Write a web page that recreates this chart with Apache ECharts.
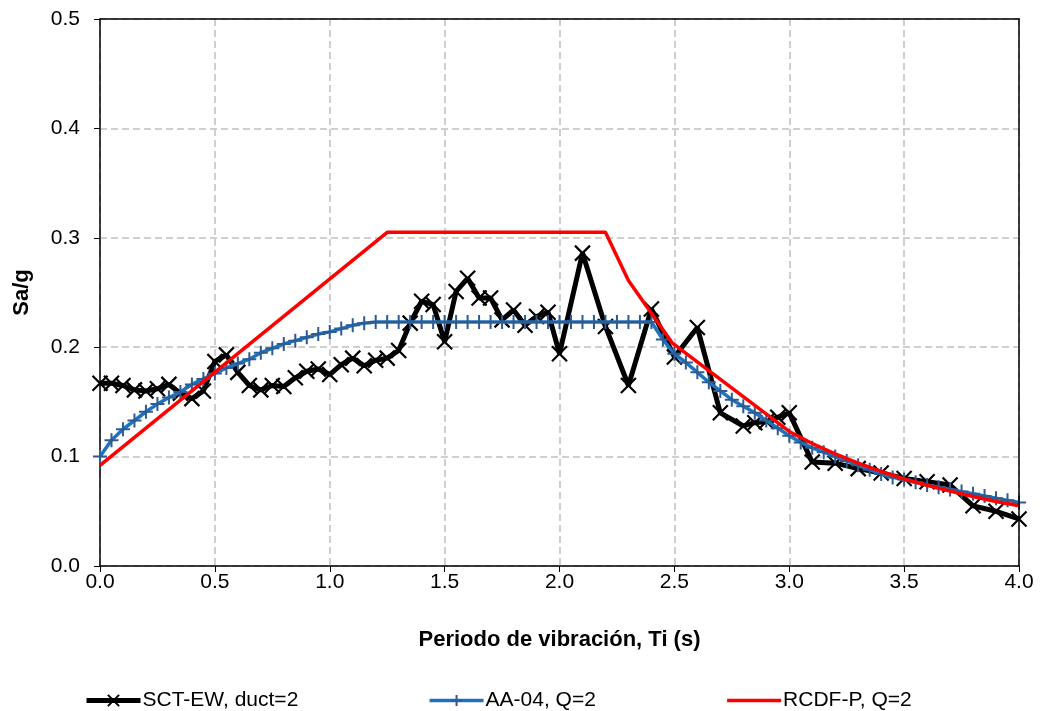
<!DOCTYPE html>
<html>
<head>
<meta charset="utf-8">
<script src="https://cdn.jsdelivr.net/npm/echarts@6/dist/echarts.min.js"></script>
<style>
html,body{margin:0;padding:0;background:#fff;}
#chart{width:1041px;height:711px;}
</style>
</head>
<body>
<div id="chart"></div>
<script>
// ---- Data ----
var xTicks = [0.0, 0.5, 1.0, 1.5, 2.0, 2.5, 3.0, 3.5, 4.0];
var yTicks = [0.0, 0.1, 0.2, 0.3, 0.4, 0.5];

var sctT = [0,0.05,0.1,0.15,0.2,0.25,0.3,0.35,0.4,0.45,0.5,0.55,0.6,0.65,0.7,0.75,0.8,0.85,0.9,0.95,
            1.0,1.05,1.1,1.15,1.2,1.25,1.3,1.35,1.4,1.45,1.5,1.55,1.6,1.65,1.7,1.75,1.8,1.85,1.9,1.95,
            2.0,2.1,2.2,2.3,2.4,2.5,2.6,2.7,2.8,2.85,2.9,2.95,3.0,3.1,3.2,3.3,3.4,3.5,3.6,3.7,3.8,3.9,4.0];
var sctSa = [0.167,0.167,0.165,0.161,0.160,0.162,0.166,0.158,0.153,0.160,0.187,0.193,0.177,0.165,0.161,0.165,0.164,0.172,0.178,0.180,
             0.175,0.184,0.190,0.183,0.188,0.190,0.197,0.222,0.242,0.239,0.205,0.251,0.263,0.245,0.245,0.225,0.234,0.220,0.228,0.232,
             0.194,0.286,0.219,0.165,0.235,0.191,0.218,0.140,0.128,0.131,0.132,0.136,0.140,0.095,0.094,0.089,0.085,0.080,0.077,0.074,0.055,0.050,0.043];

var aaT = [0,0.05,0.1,0.15,0.2,0.25,0.3,0.35,0.4,0.45,0.5,0.55,0.6,0.65,0.7,0.75,0.8,0.85,0.9,0.95,
           1.0,1.05,1.1,1.15,1.2,1.25,1.3,1.35,1.4,1.45,1.5,1.55,1.6,1.65,1.7,1.75,1.8,1.85,1.9,1.95,
           2.0,2.05,2.1,2.15,2.2,2.25,2.3,2.35,2.4,2.45,2.5,2.55,2.6,2.65,2.7,2.75,2.8,2.85,2.9,2.95,
           3.0,3.05,3.1,3.15,3.2,3.25,3.3,3.35,3.4,3.45,3.5,3.55,3.6,3.65,3.7,3.75,3.8,3.85,3.9,3.95,4.0];
var aaSa = [0.100,0.115,0.125,0.133,0.141,0.148,0.154,0.159,0.166,0.171,0.176,0.181,0.185,0.189,0.195,0.199,0.203,0.206,0.209,0.212,
            0.214,0.217,0.220,0.222,0.223,0.223,0.223,0.223,0.223,0.223,0.223,0.223,0.223,0.223,0.223,0.223,0.223,0.223,0.223,0.223,
            0.223,0.223,0.223,0.223,0.223,0.223,0.223,0.223,0.223,0.207,0.194,0.186,0.177,0.168,0.160,0.152,0.146,0.140,0.133,0.126,
            0.119,0.113,0.108,0.104,0.100,0.096,0.092,0.088,0.084,0.081,0.079,0.0765,0.074,0.072,0.070,0.068,0.066,0.064,0.062,0.060,0.058];

var rcdfT = [0,1.25,2.2,2.3,2.49,3.0,3.1,3.2,3.3,3.4,3.5,3.6,3.7,3.8,3.9,4.0];
var rcdfSa = [0.092,0.305,0.305,0.261,0.204,0.123,0.112,0.1025,0.094,0.0865,0.0795,0.0738,0.0684,0.0635,0.059,0.055];

var seriesNames = ['SCT-EW, duct=2', 'AA-04, Q=2', 'RCDF-P, Q=2'];

function pairs(t, v){ return t.map(function(x,i){ return [x, v[i]]; }); }

var crossPath = 'path://M0,0L10,10M10,0L0,10';
var plusPath = 'path://M5,0L5,10M0,5L10,5';
var blankPath = 'path://M0,0L1,1';

var chart = echarts.init(document.getElementById('chart'), null, {renderer:'canvas'});
var font = 'Liberation Sans, Arial, sans-serif';
function frameLine(){ return {show:true, onZero:false, lineStyle:{color:'#000', width:1.5}}; }
chart.setOption({
  animation:false,
  backgroundColor:'#fff',
  textStyle:{fontFamily:font},
  grid:{left:100, right:22, top:19, bottom:145, show:false},
  legend:{
    left:79, top:685, itemWidth:54, itemHeight:14, itemGap:129.5,
    textStyle:{fontSize:21, color:'#000', fontFamily:font, padding:[0,0,0,-3]},
    data:[
      {name:seriesNames[0], lineStyle:{width:5, color:'#000'}, itemStyle:{borderColor:'#000', borderWidth:2, color:'transparent'}},
      {name:seriesNames[1], lineStyle:{width:3.5, color:'#1f72bd'}, itemStyle:{borderColor:'#2d5b94', borderWidth:2, color:'transparent'}},
      {name:seriesNames[2], lineStyle:{width:3.5, color:'#ff0000'}, itemStyle:{borderWidth:0, color:'transparent'}}
    ]
  },
  xAxis:[{
    type:'value', min:0, max:4, interval:0.5,
    name:'Periodo de vibración, Ti (s)', nameLocation:'middle', nameGap:63,
    nameTextStyle:{fontSize:22, fontWeight:'bold', color:'#000'},
    axisLine:frameLine(),
    axisTick:{show:true, inside:false, length:6, lineStyle:{color:'#000'}},
    axisLabel:{fontSize:21, color:'#000', margin:6, formatter:function(v){return v.toFixed(1);}},
    splitLine:{show:true, lineStyle:{color:'#c0c0c0', width:1.5, type:[7,4]}},
    z:1
  },{
    type:'value', position:'top', min:0, max:4, interval:0.5,
    axisLine:frameLine(), axisTick:{show:false}, axisLabel:{show:false}, splitLine:{show:false}, z:5
  }],
  yAxis:[{
    type:'value', min:0, max:0.5, interval:0.1,
    name:'Sa/g', nameLocation:'middle', nameGap:67, nameRotate:90,
    nameTextStyle:{fontSize:22, fontWeight:'bold', color:'#000'},
    axisLine:frameLine(),
    axisTick:{show:true, inside:false, length:6, lineStyle:{color:'#000'}},
    axisLabel:{fontSize:21, color:'#000', margin:20, formatter:function(v){return v.toFixed(1);}},
    splitLine:{show:true, lineStyle:{color:'#c0c0c0', width:1.5, type:[7,4]}},
    z:1
  },{
    type:'value', position:'right', min:0, max:0.5, interval:0.1,
    axisLine:frameLine(), axisTick:{show:false}, axisLabel:{show:false}, splitLine:{show:false}, z:5
  }],
  series:[
    {
      name:seriesNames[0], type:'line', data:pairs(sctT, sctSa),
      symbol:crossPath, symbolSize:15, showSymbol:true,
      lineStyle:{color:'#000', width:5},
      itemStyle:{color:'transparent', borderColor:'#000', borderWidth:2.2},
      z:2
    },
    {
      name:seriesNames[1], type:'line', data:pairs(aaT, aaSa),
      symbol:plusPath, symbolSize:14, showSymbol:true,
      lineStyle:{color:'#1f72bd', width:3.5},
      itemStyle:{color:'transparent', borderColor:'#2d5b94', borderWidth:2},
      z:3
    },
    {
      name:seriesNames[2], type:'line', data:pairs(rcdfT, rcdfSa),
      symbol:blankPath, symbolSize:1, showSymbol:false,
      lineStyle:{color:'#ff0000', width:3.5},
      itemStyle:{color:'transparent', borderColor:'transparent', borderWidth:0},
      z:4
    }
  ]
});
</script>
</body>
</html>
